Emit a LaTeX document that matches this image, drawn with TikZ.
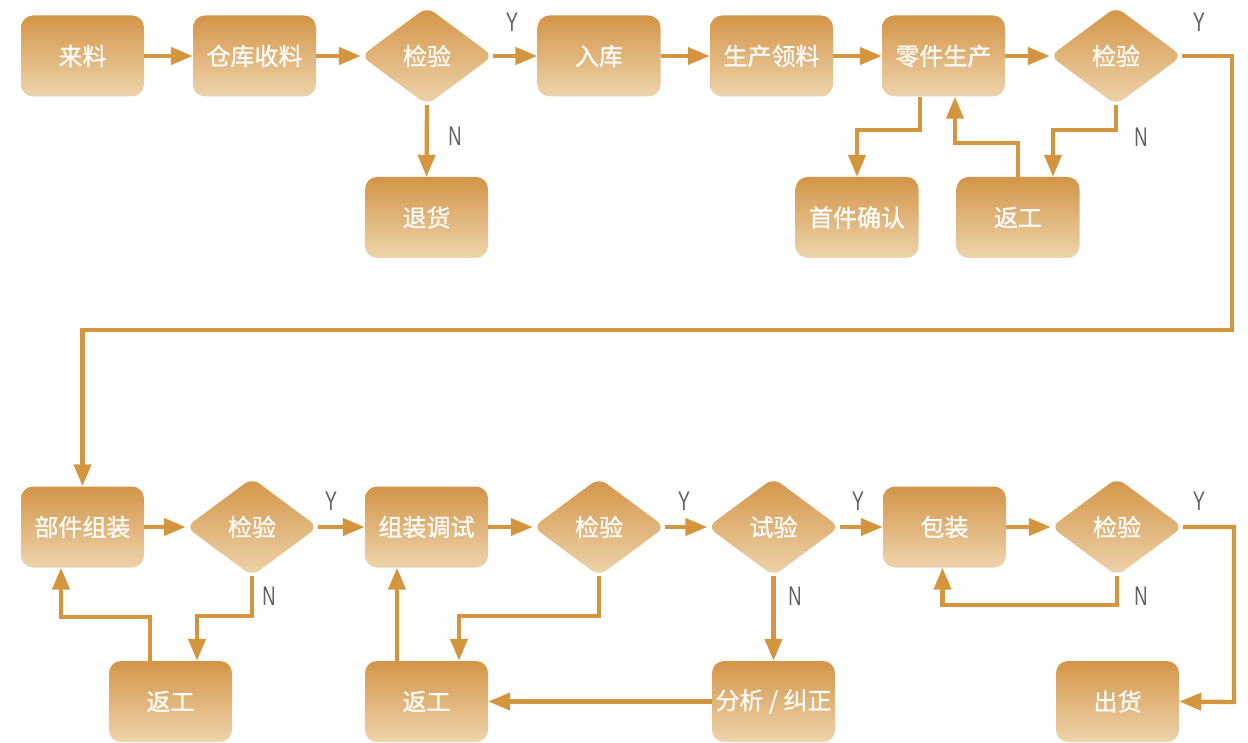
\documentclass[tikz,border=0pt]{standalone}
\usepackage{fontspec}
\newfontfamily\cjk[FakeBold=0.7]{Noto Sans CJK SC}
\newfontfamily\labfont{Liberation Sans}
\usetikzlibrary{shapes.geometric,arrows.meta}
\definecolor{boxtop}{HTML}{D39548}
\definecolor{boxbot}{HTML}{EED4AC}
\definecolor{arrowc}{HTML}{D4953F}
\definecolor{labc}{HTML}{606060}
\tikzset{
  box/.style={rectangle, rounded corners=12pt, minimum width=123pt, minimum height=81pt,
    top color=boxtop, bottom color=boxbot, draw=none, text=white, inner sep=0pt,
    font=\cjk\fontsize{24}{24}\selectfont},
  dia/.style={diamond, rounded corners=9pt, minimum width=132pt, minimum height=98pt,
    top color=boxtop, bottom color=boxbot, draw=none, text=white, inner sep=0pt,
    font=\cjk\fontsize{24}{24}\selectfont},
  arr/.style={draw=arrowc, line width=4.3pt, -{Triangle[length=22pt,width=17pt]}},
  lab/.style={text=labc, inner sep=0pt, font=\labfont\fontsize{27}{27}\selectfont},
}
\newcommand{\YN}[1]{\scalebox{0.68}[1]{#1}}
\begin{document}
\begin{tikzpicture}[x=1pt,y=-1pt]
\useasboundingbox (0,0) rectangle (1248,743);
% top row
\node[box] (laili) at (82.5,56) {来料};
\node[box] (cangku) at (254.5,56) {仓库收料};
\node[dia] (jy1) at (427,56) {检验};
\node[box] (ruku) at (599,56) {入库};
\node[box] (scll) at (771.5,56) {生产领料};
\node[box] (ljsc) at (943.5,56) {零件生产};
\node[dia] (jy2) at (1116,56) {检验};
\node[box] (tuihuo) at (426.5,217.5) {退货};
\node[box] (sjqr) at (857,217.5) {首件确认};
\node[box] (fga) at (1018,217.5) {返工};
% bottom row
\node[box] (bjzz) at (82.5,527) {部件组装};
\node[dia] (jy3) at (252,527) {检验};
\node[box] (zzts) at (426.5,527) {组装调试};
\node[dia] (jy4) at (599,527) {检验};
\node[dia] (sy) at (773.5,527) {试验};
\node[box] (bz) at (944.5,527) {包装};
\node[dia] (jy5) at (1117,527) {检验};
\node[box] (fgb) at (170.5,701.5) {返工};
\node[box] (fgc) at (426.5,701.5) {返工};
\node[box] (fx) at (773.5,701.5) {分析 / 纠正};
\node[box] (ch) at (1117.5,701.5) {出货};
\coordinate (c1) at (1232,330);
\coordinate (c2) at (1234,702);
% connectors top
\draw[arr] (laili) -- (cangku);
\draw[arr] (cangku) -- (jy1);
\draw[arr] (jy1) -- (ruku);
\draw[arr] (ruku) -- (scll);
\draw[arr] (scll) -- (ljsc);
\draw[arr] (ljsc) -- (jy2);
\draw[arr] (jy1.south) -- (tuihuo.north);
\draw[arr] ([xshift=-23.5pt]ljsc.south) -- ++(0,33.5) -| (sjqr.north);
\draw[arr] (fga.north) -- ++(0,-34) -| ([xshift=11.5pt]ljsc.south);
\draw[arr] (jy2.south) -- ++(0,25) -| ([xshift=35pt]fga.north);
\draw[arr] (jy2.east) -| (c1) -| (bjzz.north);
% connectors bottom
\draw[arr] (bjzz) -- (jy3);
\draw[arr] (jy3) -- (zzts);
\draw[arr] (zzts) -- (jy4);
\draw[arr] (jy4) -- (sy);
\draw[arr] (sy) -- (bz);
\draw[arr] (bz) -- (jy5);
\draw[arr] (jy3.south) -- ++(0,40) -| ([xshift=26.5pt]fgb.north);
\draw[arr] ([xshift=-20.5pt]fgb.north) -- ++(0,-44) -| ([xshift=-21.5pt]bjzz.south);
\draw[arr] ([xshift=-29.5pt]fgc.north) -- ([xshift=-29.5pt]zzts.south);
\draw[arr] (jy4.south) -- ++(0,40) -| ([xshift=32.5pt]fgc.north);
\draw[arr] (sy.south) -- (fx.north);
\draw[arr] (fx) -- (fgc);
\draw[arr] (jy5.south) -- ++(0,29) -| ([xshift=-2pt]bz.south);
\draw[arr] (jy5.east) -| (c2) -- (ch.east);
% labels
\node[lab] (y1) at (512,22) {\YN{Y}};
\node[lab] (n1) at (455,136) {\YN{N}};
\node[lab] (y2) at (1199,22) {\YN{Y}};
\node[lab] (n2) at (1141,137) {\YN{N}};
\node[lab] (y3) at (331,501) {\YN{Y}};
\node[lab] (n3) at (269,596) {\YN{N}};
\node[lab] (y4) at (684,501) {\YN{Y}};
\node[lab] (y5) at (858,501) {\YN{Y}};
\node[lab] (n5) at (795,596) {\YN{N}};
\node[lab] (y6) at (1199,501) {\YN{Y}};
\node[lab] (n6) at (1141,596) {\YN{N}};
\end{tikzpicture}
\end{document}
